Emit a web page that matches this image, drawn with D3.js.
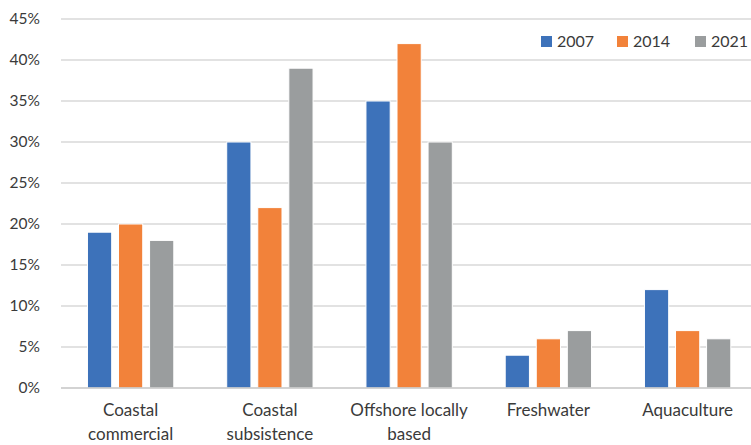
<!DOCTYPE html>
<html>
<head>
<meta charset="utf-8">
<script src="https://cdn.jsdelivr.net/npm/d3@7"></script>
<style>
  html, body { margin: 0; padding: 0; background: #fff; }
  text { font-family: Lato, "Noto Sans", sans-serif; fill: #3a3a3a; }
</style>
</head>
<body>
<svg width="751" height="445"></svg>
<script>
const categories = [["Coastal", "commercial"], ["Coastal", "subsistence"], ["Offshore locally", "based"], ["Freshwater"], ["Aquaculture"]];
const years = ["2007", "2014", "2021"];
const v2007 = [19, 30, 35, 4, 12];
const v2014 = [20, 22, 42, 6, 7];
const v2021 = [18, 39, 30, 7, 6];
const yTicks = [0, 5, 10, 15, 20, 25, 30, 35, 40, 45];

(() => {
    const series = [v2007, v2014, v2021];
    const colors = d3.scaleOrdinal().domain(years).range(["#3d72ba", "#f2823a", "#9a9d9e"]);
    const svg = d3.select("svg");

    const catIdx = categories.map((c, i) => i);
    const x0 = d3.scaleBand().domain(catIdx).range([61, 757.25])
        .paddingInner(0.38).paddingOuter(0.19);
    const x1 = d3.scaleBand().domain(years).range([0, x0.bandwidth()])
        .paddingInner(0.22).paddingOuter(0);
    const y = d3.scaleLinear().domain([0, 45]).range([388, 19]);

    // gridlines
    svg.append("g").selectAll("line")
        .data(yTicks.filter(t => t > 0))
        .join("line")
        .attr("x1", 61).attr("x2", 751)
        .attr("y1", d => y(d)).attr("y2", d => y(d))
        .attr("stroke", "#d9d9d9").attr("stroke-width", 1.3);

    // y tick labels
    svg.append("g").selectAll("text")
        .data(yTicks)
        .join("text")
        .attr("x", 40)
        .attr("y", d => y(d))
        .attr("dy", "0.35em")
        .attr("text-anchor", "end")
        .attr("font-size", 15.5)
        .text(d => d + "%");

    // bars
    const groups = svg.append("g").selectAll("g")
        .data(catIdx)
        .join("g")
        .attr("transform", i => `translate(${x0(i)},0)`);
    groups.selectAll("rect")
        .data(i => years.map((yr, k) => ({ yr, v: series[k][i] })))
        .join("rect")
        .attr("x", d => x1(d.yr))
        .attr("width", x1.bandwidth())
        .attr("y", d => y(d.v))
        .attr("height", d => y(0) - y(d.v))
        .attr("fill", d => colors(d.yr))
        .attr("stroke", "#fff")
        .attr("stroke-width", 1);

    // baseline
    svg.append("line")
        .attr("x1", 61).attr("x2", 751)
        .attr("y1", y(0)).attr("y2", y(0))
        .attr("stroke", "#c4c4c4").attr("stroke-width", 1.5);

    // category labels
    const lab = svg.append("g").selectAll("text")
        .data(catIdx)
        .join("text")
        .attr("text-anchor", "middle")
        .attr("font-size", 17)
        .attr("x", i => x0(i) + x0.bandwidth() / 2)
        .attr("y", 416);
    lab.selectAll("tspan")
        .data(i => categories[i].map(t => ({ t, i })))
        .join("tspan")
        .attr("x", d => x0(d.i) + x0.bandwidth() / 2)
        .attr("dy", (d, k) => k === 0 ? 0 : 24)
        .text(d => d.t);

    // legend
    const legendX = [541, 617, 695];
    const leg = svg.append("g").selectAll("g")
        .data(years)
        .join("g")
        .attr("transform", (d, k) => `translate(${legendX[k]},36)`);
    leg.append("rect")
        .attr("width", 11).attr("height", 11)
        .attr("fill", d => colors(d));
    leg.append("text")
        .attr("x", 16).attr("y", 5.5)
        .attr("dy", "0.35em")
        .attr("font-size", 16)
        .text(d => d);
})();
</script>
</body>
</html>
